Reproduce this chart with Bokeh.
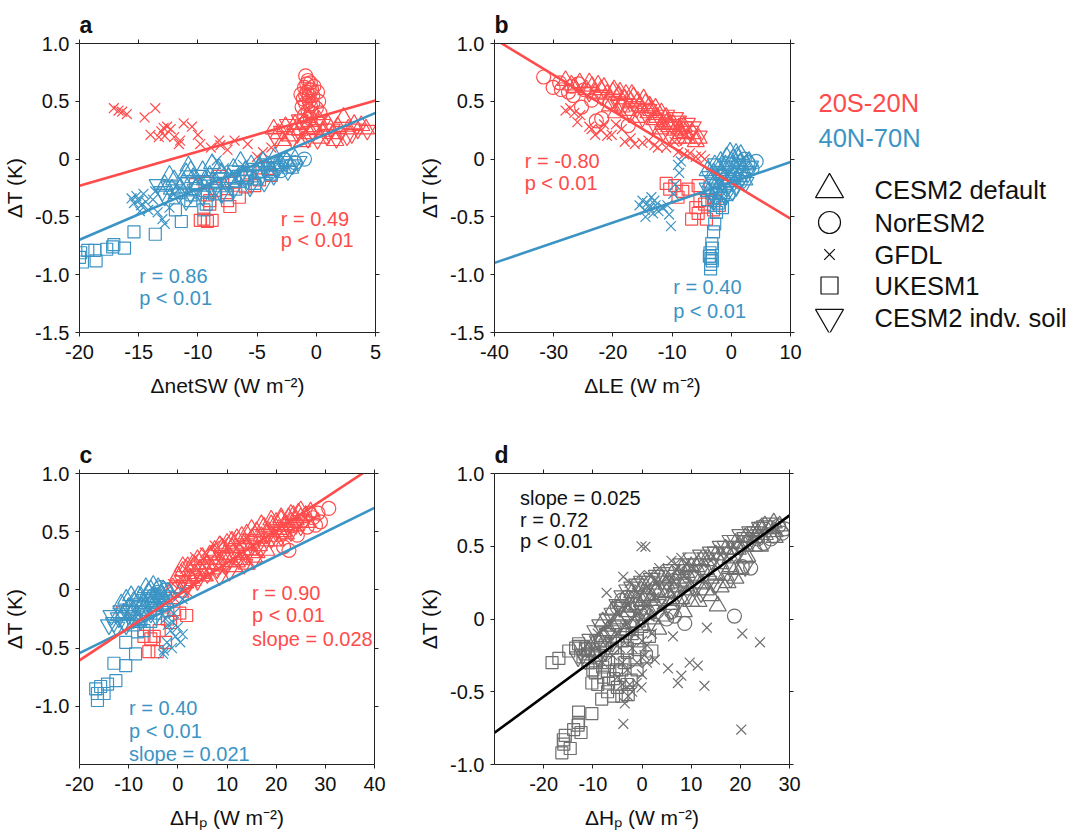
from bokeh.plotting import figure
from bokeh.layouts import row, column
from bokeh.models import LinearAxis, FixedTicker, CustomJSTickFormatter, Range1d
from bokeh.embed import file_html
from bokeh.resources import INLINE
from bokeh.core.properties import value

FONT = "Liberation Sans"
RED = "#FF4B4B"
BLUE = "#3B94C4"
GRAY = "#6E6E6E"
AXIS_COLOR = "#222222"

REGIONS = ["20S-20N", "40N-70N"]
MODELS = ["CESM2 default", "NorESM2", "GFDL", "UKESM1", "CESM2 indv. soil"]
MARKERS = ["triangle", "circle", "x", "square", "inverted_triangle"]
MARKER_SIZE = {"triangle": 17, "circle": 14, "x": 14, "square": 12, "inverted_triangle": 17}

# ---------------- panel a: dT vs dnetSW ----------------
A_XTICKS = [-20, -15, -10, -5, 0, 5]
A_XLABELS = ["-20", "-15", "-10", "-5", "0", "5"]
Y_TICKS_FULL = [-1.5, -1.0, -0.5, 0, 0.5, 1.0]
Y_LABELS_FULL = ["-1.5", "-1.0", "-0.5", "0", "0.5", "1.0"]

A_RED_CES = [(-3.2, 0.22), (-2.6, 0.28), (-2.2, 0.20), (-1.8, 0.30), (-1.4, 0.25), (-1.0, 0.32),
             (-0.6, 0.22), (-0.2, 0.28), (0.2, 0.34), (0.6, 0.24), (1.0, 0.30), (1.4, 0.22),
             (1.8, 0.28), (2.3, 0.36), (2.7, 0.26), (3.2, 0.30), (3.8, 0.29), (4.2, 0.26),
             (-2.8, 0.16), (-1.2, 0.15), (0.4, 0.18), (1.6, 0.16), (-3.6, 0.26), (-0.8, 0.36)]
A_RED_NOR = [(-0.9, 0.72), (-0.7, 0.68), (-0.5, 0.66), (-1.0, 0.62), (-0.4, 0.60), (-0.8, 0.58),
             (-0.6, 0.55), (-1.1, 0.52), (-0.3, 0.55), (0.1, 0.58), (-0.9, 0.48), (-0.5, 0.46),
             (0.2, 0.50), (-1.2, 0.45), (-0.7, 0.42), (-0.4, 0.40), (-1.0, 0.38), (0.0, 0.44),
             (-0.6, 0.50), (-0.2, 0.63), (-1.3, 0.56), (-0.8, 0.65), (-0.5, 0.35), (-1.1, 0.30),
             (0.3, 0.40), (-0.3, 0.48), (-0.9, 0.55), (-0.6, 0.60)]
A_RED_GFDL = [(-17.1, 0.44), (-16.7, 0.42), (-16.4, 0.41), (-16.0, 0.39), (-14.5, 0.36), (-13.6, 0.44),
              (-14.0, 0.21), (-13.1, 0.24), (-12.9, 0.27), (-12.6, 0.28), (-12.3, 0.26), (-12.0, 0.19),
              (-11.5, 0.16), (-11.6, 0.13), (-11.2, 0.31), (-10.5, 0.28), (-10.0, 0.21), (-9.8, 0.13),
              (-8.9, 0.10), (-8.2, 0.16), (-8.1, 0.12), (-6.9, 0.16), (-5.8, 0.13), (-5.0, 0.02),
              (-3.8, 0.10), (-12.8, 0.20), (-13.3, 0.19), (-7.5, 0.08), (-4.5, 0.06)]
A_RED_UK = [(-9.8, -0.53), (-9.5, -0.52), (-9.2, -0.54), (-8.8, -0.53), (-9.0, -0.36), (-9.2, -0.31),
            (-9.0, -0.39), (-7.5, -0.36), (-7.3, -0.41), (-6.5, -0.33), (-5.2, -0.23), (-7.5, -0.29),
            (-6.9, -0.20), (-4.8, -0.18), (-3.8, -0.14), (-4.1, -0.08), (-8.5, -0.27), (-9.4, -0.20),
            (-8.2, -0.15), (-6.0, -0.24), (-10.2, -0.22), (-5.6, -0.12)]
A_RED_SOIL = [(-3.4, 0.18), (-2.9, 0.24), (-2.4, 0.30), (-2.0, 0.17), (-1.6, 0.22), (-1.1, 0.27),
              (-0.7, 0.18), (-0.3, 0.24), (0.1, 0.17), (0.5, 0.30), (0.9, 0.20), (1.3, 0.26),
              (1.7, 0.18), (2.1, 0.24), (2.6, 0.20), (3.0, 0.22), (3.5, 0.26), (4.3, 0.25),
              (-1.4, 0.34), (0.0, 0.32)]

A_BLUE_CES = [(-12.8, -0.22), (-12.0, -0.18), (-11.5, -0.25), (-11.0, -0.12), (-10.4, -0.16), (-10.0, -0.22),
              (-9.6, -0.10), (-9.0, -0.14), (-8.5, -0.20), (-8.0, -0.12), (-7.4, -0.16), (-7.0, -0.08),
              (-6.6, -0.20), (-6.0, -0.10), (-5.5, -0.05), (-5.0, -0.12), (-4.5, -0.02), (-4.0, -0.06),
              (-3.5, 0.02), (-3.0, -0.04), (-2.5, -0.02), (-11.8, -0.30), (-9.2, -0.28), (-7.8, -0.24),
              (-10.8, -0.06), (-8.8, -0.04), (-6.4, -0.02), (-12.4, -0.14), (-12.2, -0.26), (-11.2, -0.20),
              (-10.6, -0.10), (-9.4, -0.18), (-8.2, -0.08), (-7.2, -0.20), (-6.2, -0.15), (-5.2, -0.18),
              (-4.8, -0.06), (-3.8, -0.10), (-3.2, -0.06), (-2.2, -0.08), (-1.8, 0.0)]
A_BLUE_NOR = [(-1.0, 0.0), (-2.2, -0.06), (-3.0, -0.10), (-4.0, -0.12), (-3.6, -0.04), (-2.6, -0.01),
              (-1.8, -0.03)]
A_BLUE_GFDL = [(-15.2, -0.32), (-15.0, -0.36), (-14.8, -0.40), (-15.4, -0.38), (-14.6, -0.30), (-14.2, -0.44),
               (-13.8, -0.35), (-13.4, -0.46), (-13.0, -0.52), (-12.8, -0.56), (-12.4, -0.42), (-14.9, -0.45),
               (-13.6, -0.28), (-12.0, -0.30), (-11.5, -0.25), (-8.4, -0.01), (-7.8, -0.08), (-7.0, -0.12),
               (-6.2, -0.05), (-10.2, -0.18), (-9.0, -0.22), (-15.6, -0.34), (-14.4, -0.37)]
A_BLUE_UK = [(-20.0, -0.85), (-19.75, -0.89), (-19.3, -0.79), (-18.6, -0.88), (-18.7, -0.79), (-17.7, -0.78),
             (-17.1, -0.74), (-16.2, -0.77), (-15.4, -0.63), (-13.6, -0.65), (-11.9, -0.44), (-11.4, -0.54),
             (-10.6, -0.36), (-9.5, -0.44), (-10.5, -0.31), (-7.6, -0.31), (-5.2, -0.21), (-3.9, -0.13),
             (-5.9, -0.16), (-9.3, -0.39), (-17.2, -0.76), (-19.9, -0.81), (-8.6, -0.30), (-6.8, -0.26)]
A_BLUE_SOIL = [(-13.0, -0.28), (-12.4, -0.24), (-11.6, -0.30), (-10.8, -0.20), (-10.2, -0.26), (-9.8, -0.14),
               (-9.2, -0.20), (-8.6, -0.26), (-8.2, -0.16), (-7.6, -0.20), (-7.0, -0.26), (-6.4, -0.14),
               (-5.8, -0.18), (-5.2, -0.08), (-4.6, -0.14), (-4.2, -0.04), (-3.4, -0.08), (-2.8, -0.02),
               (-2.0, -0.05), (-1.5, -0.02), (-13.4, -0.22), (-11.0, -0.36), (-12.8, -0.32), (-10.6, -0.30),
               (-9.6, -0.32), (-8.0, -0.30), (-6.8, -0.10), (-5.6, -0.24), (-4.4, -0.20), (-3.6, -0.14),
               (-2.4, -0.10)]

A_FIT_RED = (0.0295, 0.36)     # slope, intercept
A_FIT_BLUE = (0.0439, 0.18)
A_STATS_RED = ["r = 0.49", "p < 0.01"]
A_STATS_BLUE = ["r = 0.86", "p < 0.01"]

# ---------------- panel b: dT vs dLE ----------------
B_XTICKS = [-40, -30, -20, -10, 0, 10]
B_XLABELS = ["-40", "-30", "-20", "-10", "0", "10"]

B_RED_CES = [(-28.0, 0.68), (-27.0, 0.64), (-25.6, 0.66), (-24.5, 0.60), (-23.5, 0.63), (-23.0, 0.57),
             (-22.0, 0.60), (-21.0, 0.56), (-20.0, 0.58), (-19.0, 0.55), (-18.0, 0.52), (-17.0, 0.50),
             (-16.5, 0.54), (-15.5, 0.46), (-14.5, 0.48), (-13.5, 0.42), (-12.5, 0.36), (-11.5, 0.30),
             (-10.5, 0.28), (-9.5, 0.25), (-8.5, 0.22), (-7.5, 0.18), (-6.5, 0.22), (-14.0, 0.40),
             (-18.5, 0.45), (-20.5, 0.46), (-12.0, 0.26), (-9.0, 0.18), (-16.0, 0.36), (-19.5, 0.40),
             (-11.0, 0.36), (-13.0, 0.34), (-17.5, 0.42), (-8.0, 0.28), (-6.0, 0.15),
             (-26.5, 0.62), (-24.0, 0.66), (-22.5, 0.64), (-21.5, 0.62), (-19.8, 0.60), (-18.8, 0.58),
             (-17.8, 0.56), (-16.8, 0.56), (-15.8, 0.50), (-14.8, 0.52), (-13.8, 0.46), (-12.8, 0.44),
             (-11.8, 0.40), (-10.8, 0.32), (-9.8, 0.30), (-8.8, 0.26), (-7.8, 0.23), (-5.5, 0.18)]
B_RED_NOR = [(-31.7, 0.71), (-30.1, 0.62), (-28.7, 0.60), (-27.5, 0.58), (-25.8, 0.65), (-26.7, 0.55),
             (-25.3, 0.45), (-21.9, 0.35), (-23.6, 0.51), (-17.4, 0.29), (-29.0, 0.66), (-27.0, 0.63),
             (-24.8, 0.60), (-22.8, 0.33), (-20.5, 0.50)]
B_RED_GFDL = [(-28.0, 0.42), (-27.2, 0.44), (-26.5, 0.40), (-25.5, 0.38), (-24.0, 0.28), (-23.6, 0.26),
              (-23.0, 0.21), (-22.0, 0.25), (-21.0, 0.20), (-20.2, 0.21), (-19.5, 0.30), (-18.5, 0.26),
              (-18.0, 0.15), (-17.0, 0.18), (-16.3, 0.13), (-15.0, 0.14), (-14.0, 0.16), (-13.0, 0.12),
              (-12.4, 0.10), (-11.0, 0.10), (-9.6, 0.15), (-9.0, 0.06), (-8.0, 0.04), (-7.0, 0.05),
              (-6.0, 0.02), (-5.1, 0.03), (-4.5, 0.00), (-26.0, 0.32), (-21.5, 0.30)]
B_RED_UK = [(-11.0, -0.21), (-9.55, -0.23), (-9.0, -0.33), (-7.3, -0.26), (-5.6, -0.23), (-5.3, -0.36),
            (-5.6, -0.47), (-6.7, -0.52), (-4.5, -0.39), (-2.8, -0.36), (-2.0, -0.40), (-10.4, -0.26),
            (-6.0, -0.42), (-4.2, -0.52), (-3.0, -0.44), (-8.2, -0.28)]
B_RED_SOIL = [(-22.0, 0.55), (-20.0, 0.52), (-18.0, 0.48), (-16.0, 0.44), (-14.0, 0.43), (-12.0, 0.34),
              (-11.0, 0.38), (-10.0, 0.30), (-9.0, 0.33), (-8.0, 0.28), (-7.0, 0.24), (-6.5, 0.28),
              (-8.5, 0.20), (-10.5, 0.22), (-13.0, 0.30), (-15.0, 0.36), (-17.0, 0.40), (-11.5, 0.24),
              (-24.0, 0.58), (-19.0, 0.47), (-9.5, 0.36), (-7.5, 0.31), (-5.5, 0.20)]

B_BLUE_CES = [(-3.5, -0.20), (-3.0, -0.12), (-2.5, -0.18), (-2.0, -0.08), (-1.5, -0.14), (-1.0, -0.05),
              (-0.5, -0.10), (0.0, -0.02), (0.5, -0.08), (1.0, 0.02), (1.5, -0.04), (2.0, -0.10),
              (0.8, 0.05), (-1.2, -0.22), (-0.3, -0.18), (2.5, -0.05), (-2.2, -0.25), (1.2, -0.15),
              (-4.0, -0.10), (0.3, 0.0), (-1.8, -0.02), (-3.8, -0.28), (-2.8, -0.05), (-0.8, 0.02),
              (0.6, -0.14), (1.6, 0.04), (2.2, -0.18), (-1.6, -0.30), (3.0, -0.02), (-0.2, 0.06)]
B_BLUE_NOR = [(4.2, -0.02), (3.5, -0.08), (2.2, 0.0), (1.5, -0.20), (-0.5, -0.30), (2.8, -0.03)]
B_BLUE_GFDL = [(-15.5, -0.40), (-15.0, -0.36), (-14.6, -0.44), (-14.2, -0.38), (-13.8, -0.42), (-13.5, -0.33),
               (-13.2, -0.47), (-12.8, -0.40), (-12.3, -0.45), (-11.5, -0.42), (-10.5, -0.48), (-10.2, -0.58),
               (-9.8, -0.30), (-9.5, -0.22), (-9.0, -0.05), (-8.5, -0.02), (-8.8, -0.12), (-14.5, -0.50),
               (-13.0, -0.36), (-10.8, -0.40)]
B_BLUE_UK = [(-3.5, -0.95), (-3.5, -0.91), (-3.4, -0.86), (-3.6, -0.81), (-3.2, -0.77), (-3.3, -0.73),
             (-3.0, -0.63), (-2.8, -0.56), (-2.5, -0.46), (-3.0, -0.40), (-2.2, -0.38), (-1.8, -0.34),
             (-2.6, -0.30), (-1.5, -0.42), (-4.0, -0.35), (-3.2, -0.88), (-3.7, -0.84)]
B_BLUE_SOIL = [(-4.0, -0.25), (-3.2, -0.30), (-2.8, -0.22), (-2.0, -0.28), (-1.5, -0.20), (-0.8, -0.25),
               (-0.2, -0.12), (0.4, -0.20), (1.0, -0.10), (1.8, -0.16), (2.8, -0.12), (3.2, -0.06),
               (-1.0, -0.32), (0.2, -0.28), (-3.6, -0.15), (-2.4, -0.12), (-0.6, -0.06),
               (-3.0, -0.36), (-1.8, -0.14), (-0.4, -0.22), (0.8, -0.24), (1.4, -0.06), (2.4, -0.20),
               (-2.6, -0.04)]

B_FIT_RED = (-0.0311, -0.205)
B_FIT_BLUE = (0.01744, -0.20)
B_STATS_RED = ["r = -0.80", "p < 0.01"]
B_STATS_BLUE = ["r = 0.40", "p < 0.01"]

# ---------------- panel c: dT vs dHp by region ----------------
C_XTICKS = [-20, -10, 0, 10, 20, 30, 40]
C_XLABELS = ["-20", "-10", "0", "10", "20", "30", "40"]
C_YTICKS = [-1.0, -0.5, 0, 0.5, 1.0]
C_YLABELS = ["-1.0", "-0.5", "0", "0.5", "1.0"]

C_RED_CES = [(-1, 0.02), (0, 0.12), (0.5, -0.02), (1, 0.16), (1.5, 0.06), (2, 0.2), (2.5, 0.1), (3, 0.22),
             (3.5, 0.14), (4, 0.26), (4.5, 0.18), (5, 0.28), (5.5, 0.12), (6, 0.22), (6.5, 0.3), (7, 0.18),
             (7.5, 0.34), (8, 0.26), (8.5, 0.38), (9, 0.22), (9.5, 0.3), (10, 0.4), (10.5, 0.28), (11, 0.36),
             (11.5, 0.2), (12, 0.44), (12.5, 0.32), (13, 0.26), (13.5, 0.4), (14, 0.48), (14.5, 0.34),
             (15, 0.44), (15.5, 0.28), (16, 0.5), (16.5, 0.38), (17, 0.46), (17.5, 0.54), (18, 0.42),
             (18.5, 0.5), (19, 0.56), (19.5, 0.46), (20, 0.58), (20.5, 0.52), (21, 0.6), (21.5, 0.5),
             (22, 0.56), (22.5, 0.62), (23, 0.58), (23.5, 0.64), (24, 0.6), (24.5, 0.66), (25, 0.62),
             (26, 0.64), (27, 0.67), (26.5, 0.58), (12, 0.24), (16, 0.32),
             (1, 0.2), (3, 0.08), (5, 0.14), (7, 0.3), (9, 0.36), (11, 0.42), (13, 0.46), (15, 0.52),
             (17, 0.56), (19, 0.6), (21, 0.62), (23, 0.65), (25, 0.68), (14, 0.22), (18, 0.34), (20, 0.42),
             (22, 0.48), (24, 0.55)]
C_RED_NOR = [(30.7, 0.70), (29.0, 0.585), (28.0, 0.556), (26.3, 0.54), (24.3, 0.47), (22.6, 0.34),
             (21.5, 0.37), (27.5, 0.62), (25.5, 0.60), (23.0, 0.55), (28.5, 0.66), (26.8, 0.66)]
C_RED_GFDL = [(-1, 0.05), (0.5, 0.1), (1.5, 0.18), (2.5, 0.22), (3.5, 0.28), (4.5, 0.24), (5.5, 0.32),
              (6.5, 0.26), (7.5, 0.38), (8.5, 0.3), (9.5, 0.42), (10.5, 0.36), (11.5, 0.46), (12.5, 0.4),
              (14, 0.44), (3, 0.06), (6, 0.12), (9, 0.16), (-0.5, -0.08), (2, -0.02)]
C_RED_UK = [(-11.3, -0.19), (-6.9, -0.40), (-5.5, -0.42), (-5.9, -0.53), (-4.2, -0.53), (-2.8, -0.13),
            (-2.1, -0.25), (0.4, -0.20), (1.8, -0.22), (-1.5, -0.28), (-3.8, -0.35), (-0.8, -0.17),
            (-4.8, -0.40), (-2.5, -0.45)]
C_RED_SOIL = [(0, 0.02), (1, 0.08), (2, 0.04), (3, 0.12), (4, 0.08), (5, 0.18), (6, 0.14), (7, 0.24),
              (8, 0.18), (9, 0.28), (10, 0.22), (11, 0.3), (12, 0.28), (13, 0.36), (14, 0.3), (15, 0.38),
              (16, 0.42), (17, 0.36), (18, 0.48), (19, 0.44), (20, 0.5), (21, 0.46), (22, 0.52), (23, 0.5),
              (24, 0.56), (25, 0.55), (10.5, 0.16), (13.5, 0.22), (15.5, 0.26), (8.5, 0.12)]

C_BLUE_CES = [(-10.0, -0.15), (-9.0, -0.10), (-8.0, -0.05), (-7.0, -0.12), (-6.0, -0.02), (-5.0, -0.08),
              (-4.0, 0.02), (-3.5, -0.04), (-4.5, -0.14), (-6.5, -0.18), (-8.5, -0.22), (-11.0, -0.20),
              (-3.0, 0.0), (-5.5, 0.0), (-7.5, -0.06), (-2.5, -0.10), (-9.5, -0.05), (-6.0, -0.10),
              (-4.0, -0.06), (-10.5, -0.08), (-9.0, -0.18), (-7.5, -0.14), (-6.5, 0.02), (-5.0, 0.04),
              (-4.5, -0.06), (-3.5, -0.12), (-2.0, -0.02), (-8.0, -0.28), (-11.5, -0.12), (-12.0, -0.22)]
C_BLUE_NOR = [(-4.0, -0.02), (-3.5, 0.02), (-5.0, -0.05), (-2.5, 0.0)]
C_BLUE_GFDL = [(-2.5, -0.25), (-2.0, -0.30), (-1.5, -0.35), (-1.0, -0.28), (-0.5, -0.40), (0.0, -0.32),
               (0.5, -0.45), (1.0, -0.38), (-1.2, -0.50), (-3.0, -0.55), (-2.2, -0.45), (0.8, 0.0),
               (0.2, -0.05), (1.0, -0.08), (-0.8, -0.20), (-2.8, -0.52)]
C_BLUE_UK = [(-16.35, -0.95), (-16.35, -0.89), (-15.7, -0.83), (-14.3, -0.81), (-13.0, -0.63), (-10.6, -0.65),
             (-8.6, -0.55), (-10.6, -0.45), (-8.2, -0.36), (-6.9, -0.35), (-5.5, -0.27), (-12.6, -0.78),
             (-15.0, -0.89), (-16.7, -0.85), (-9.0, -0.30), (-7.5, -0.25), (-4.5, -0.20)]
C_BLUE_SOIL = [(-13.0, -0.28), (-12.0, -0.24), (-11.0, -0.28), (-10.0, -0.22), (-9.0, -0.25), (-8.0, -0.18),
               (-7.0, -0.20), (-6.0, -0.12), (-5.0, -0.15), (-4.0, -0.08), (-3.0, -0.05), (-12.5, -0.32),
               (-9.5, -0.18), (-6.5, -0.08), (-8.5, -0.12), (-11.5, -0.18), (-14.0, -0.30), (-13.5, -0.22),
               (-10.5, -0.30), (-7.5, -0.26), (-5.5, -0.20), (-4.5, -0.22), (-3.5, -0.10), (-2.5, -0.16)]

C_FIT_RED = (0.0279, -0.047)
C_FIT_BLUE = (0.0208, -0.127)
C_STATS_RED = ["r = 0.90", "p < 0.01", "slope = 0.028"]
C_STATS_BLUE = ["r = 0.40", "p < 0.01", "slope = 0.021"]

# ---------------- panel d: dT vs dHp, all grid cells ----------------
D_XTICKS = [-20, -10, 0, 10, 20, 30]
D_XLABELS = ["-20", "-10", "0", "10", "20", "30"]
D_YTICKS = [-1.0, -0.5, 0, 0.5, 1.0]
D_YLABELS = ["-1.0", "-0.5", "0", "0.5", "1.0"]

D_CES = [(-10, -0.18), (-8, -0.12), (-6, -0.05), (-4, 0.02), (-2, 0.08), (0, 0.12), (2, 0.15), (4, 0.02),
         (3.3, -0.07), (5, 0.18), (6, 0.1), (7, 0.22), (8, 0.14), (9, 0.26), (10, 0.2), (11, 0.3), (12, 0.24),
         (13, 0.34), (14, 0.16), (15.4, 0.09), (14, 0.28), (16, 0.38), (17.4, 0.25), (18, 0.42), (19, 0.34),
         (20.1, 0.34), (21.4, 0.43), (21, 0.5), (22.8, 0.50), (23, 0.56), (24.1, 0.62), (25, 0.58),
         (26.8, 0.66), (26, 0.62), (27, 0.6), (28, 0.64), (-1, -0.02), (1, 0.04), (17, 0.3), (19.5, 0.48),
         (11.5, 0.12), (8.5, 0.05),
         (-11, -0.22), (-9, -0.16), (-7, -0.08), (-5, 0.0), (-3, 0.05), (-1, 0.1), (1, 0.16), (3, 0.2),
         (5, 0.24), (7, 0.28), (9, 0.32), (11, 0.36), (13, 0.4), (15, 0.44), (17, 0.48), (19, 0.52),
         (21, 0.56), (23, 0.6), (25, 0.64), (-8, -0.02), (-6, 0.06), (-4, 0.12), (-2, 0.18), (0, 0.22),
         (2, 0.24), (4, 0.28), (6, 0.3), (8, 0.34), (10, 0.36), (12, 0.4), (15, 0.3), (18, 0.36),
         (21, 0.42), (24, 0.5), (27, 0.56), (-3, -0.08), (0, -0.04), (2, 0.0), (6, 0.14), (10, 0.12),
         (13, 0.2), (16, 0.22), (19, 0.28)]
D_NOR = [(-4.1, 0.13), (6.0, 0.05), (8.7, -0.03), (18.8, 0.02), (20.4, 0.36), (22.1, 0.35), (24.8, 0.52),
         (26.8, 0.57), (28.5, 0.59), (27.8, 0.64), (26.2, 0.55), (6.6, 0.02), (-5.0, 0.08), (-3.0, 0.15),
         (3.0, 0.05), (5.0, 0.0), (29.0, 0.62), (23.5, 0.55), (-2.0, 0.10)]
D_GFDL = [(-9, -0.1), (-7, -0.05), (-5, 0.05), (-3, 0.1), (-1, 0.18), (1, 0.22), (3, 0.25), (5, 0.28),
          (7, 0.34), (9, 0.38), (-6, -0.25), (-4, -0.3), (-2, -0.2), (0, -0.15), (2, -0.1), (-5, -0.4),
          (-3, -0.35), (-1, -0.3), (1, -0.18), (-2.5, -0.45),
          (-0.1, 0.50), (0.7, 0.496), (-7.2, 0.18), (-3.8, 0.29), (6.3, -0.12), (5.3, -0.34), (7.3, -0.44),
          (8.0, -0.39), (9.7, -0.30), (11.35, -0.32), (12.7, -0.46), (13.2, -0.06), (20.4, -0.10),
          (24.0, -0.16), (20.2, -0.76), (-3.8, -0.72), (-3.5, -0.58), (-2.8, -0.53), (-1.1, -0.44),
          (-0.1, -0.47), (2.6, -0.28),
          (-8, -0.3), (-6.5, -0.15), (-4.5, -0.2), (-3.5, -0.05), (-2, 0.0), (-0.5, 0.05), (0.5, 0.12),
          (1.5, 0.02), (2.5, 0.15), (4, 0.1), (-1.5, -0.1), (0.5, -0.25), (-4, -0.45), (-2, -0.5),
          (0, -0.38), (1, -0.3), (-0.5, 0.3), (-2.5, 0.25), (1.5, 0.3), (3.5, 0.35), (6, 0.4), (8, 0.42)]
D_UK = [(-16.3, -0.92), (-15.9, -0.86), (-15.6, -0.80), (-14.6, -0.89), (-13.9, -0.76), (-12.9, -0.71),
        (-12.4, -0.78), (-12.9, -0.64), (-10.2, -0.65), (-8.2, -0.55), (-5.8, -0.53), (-4.1, -0.53),
        (-2.8, -0.52), (-10.2, -0.44), (-9.5, -0.37), (-7.8, -0.40), (-5.8, -0.41), (-4.1, -0.35),
        (-3.5, -0.30), (-1.4, -0.28), (2.0, -0.22), (-9.5, -0.30), (-6.8, -0.30), (-12.9, -0.17),
        (-10.9, -0.24), (-6.8, -0.44), (-5.2, -0.35), (-0.8, -0.21), (0.9, -0.26), (-18.3, -0.30),
        (-16.9, -0.27), (-14.9, -0.22), (-16.0, -0.83), (-13.0, -0.73), (-8.0, -0.33), (-2.2, -0.42),
        (-3.0, -0.23), (1.5, -0.12), (-11.5, -0.20), (-7.5, -0.18),
        (-9, -0.45), (-7, -0.5), (-5, -0.47), (-3, -0.45), (-1, -0.35), (-7, -0.36), (-5, -0.28),
        (-3, -0.2), (-1, -0.15), (-11, -0.3), (-8.5, -0.25), (-6, -0.2), (-4, -0.15), (-2, -0.1),
        (0, -0.05), (-13.5, -0.2), (-12, -0.26), (-10, -0.35)]
D_SOIL = [(-12, -0.24), (-11, -0.2), (-10, -0.24), (-9, -0.15), (-8, -0.2), (-7, -0.1), (-6, -0.16),
          (-5, -0.04), (-4, -0.1), (-3, 0.02), (-2, -0.04), (-1, 0.08), (0, 0.0), (1, 0.14), (2, 0.06),
          (3, 0.2), (4, 0.12), (5, 0.26), (6, 0.2), (7, 0.3), (8, 0.24), (9, 0.34), (10, 0.3), (11, 0.38),
          (12, 0.34), (13, 0.42), (14, 0.38), (15, 0.46), (16, 0.42), (17, 0.5), (18, 0.46), (19, 0.54),
          (20, 0.5), (21, 0.56), (22, 0.54), (23, 0.6), (24, 0.58), (25, 0.64), (-7.5, -0.22), (-4.5, 0.08),
          (-1.5, 0.16), (1.5, 0.2), (4.5, 0.22), (7.5, 0.18), (10.5, 0.22), (13.5, 0.26),
          (-13, -0.26), (-11.5, -0.28), (-10.5, -0.14), (-9.5, -0.08), (-8.5, -0.04), (-7, 0.0),
          (-6, 0.04), (-5, 0.1), (-4, 0.16), (-3, 0.2), (-2, 0.22), (-1, 0.24), (0, 0.26), (1, 0.26),
          (2, 0.28), (3, 0.3), (4, 0.32), (6, 0.34), (8, 0.38), (10, 0.42), (12, 0.44), (14, 0.46),
          (16, 0.5), (18, 0.54), (20, 0.58), (22, 0.6), (24, 0.63), (26, 0.66), (-6, -0.08), (-3, -0.12),
          (0, 0.06), (3, 0.1), (6, 0.06), (9, 0.16), (12, 0.18), (15, 0.24), (18, 0.28), (21, 0.36),
          (-12.5, -0.18), (-9, -0.26)]

D_FIT = (0.0249, -0.035)
D_STATS = ["slope = 0.025", "r = 0.72", "p < 0.01"]


def tick_overrides(ticks, labels):
    return {t: s for t, s in zip(ticks, labels)}


def make_panel(width, height, borders, xr, yr, xticks, xlabels, yticks, ylabels, xlabel, letter):
    left, right, top, bottom = borders
    p = figure(width=width, height=height, x_range=Range1d(*xr), y_range=Range1d(*yr),
               toolbar_location=None, output_backend="svg", title=letter,
               min_border_left=left, min_border_right=right,
               min_border_top=top, min_border_bottom=bottom)
    p.grid.visible = False
    p.outline_line_color = None
    p.title.text_font = FONT
    p.title.text_font_size = "23px"
    p.title.text_font_style = "bold"
    p.title.text_color = "#111111"
    p.title.align = "left"
    p.title.offset = 0
    p.title.standoff = 4

    for ax, ticks, labels in ((p.xaxis[0], xticks, xlabels), (p.yaxis[0], yticks, ylabels)):
        ax.ticker = FixedTicker(ticks=ticks)
        ax.major_label_overrides = tick_overrides(ticks, labels)
        ax.major_label_text_font = FONT
        ax.major_label_text_font_size = "20px"
        ax.major_label_text_color = "#111111"
        ax.axis_label_text_font = FONT
        ax.axis_label_text_font_size = "21px"
        ax.axis_label_text_font_style = "normal"
        ax.axis_label_text_color = "#111111"
        ax.minor_tick_line_color = None
        ax.major_tick_in = 0
        ax.major_tick_out = 4
        ax.axis_line_color = AXIS_COLOR
        ax.major_tick_line_color = AXIS_COLOR
    p.xaxis[0].axis_label = xlabel
    p.xaxis[0].major_label_standoff = 8
    p.xaxis[0].axis_label_standoff = 12
    p.yaxis[0].axis_label = "ΔT (K)"
    p.yaxis[0].major_label_standoff = 6
    p.yaxis[0].axis_label_standoff = 6

    blank = CustomJSTickFormatter(code="return '';")
    for side, ticks in (("above", xticks), ("right", yticks)):
        ax = LinearAxis(ticker=FixedTicker(ticks=ticks), formatter=blank,
                        major_tick_in=0, major_tick_out=4, minor_tick_line_color=None,
                        major_label_standoff=0, major_label_text_font_size="1px",
                        axis_line_color=AXIS_COLOR, major_tick_line_color=AXIS_COLOR)
        p.add_layout(ax, side)
    return p


def add_points(p, pts, marker, color, size=None):
    xs = [q[0] for q in pts]
    ys = [q[1] for q in pts]
    p.scatter(xs, ys, marker=marker, size=size or MARKER_SIZE[marker],
              fill_color=None, line_color=color, line_width=1.2)


def add_fit(p, fit, xr, color):
    slope, icpt = fit
    xs = [xr[0], xr[1]]
    p.line(xs, [slope * x + icpt for x in xs], line_color=color, line_width=2.6)


def add_stats(p, x, ys, lines, color):
    p.text(x=[x] * len(lines), y=ys, text=lines, text_color=color,
           text_font=value(FONT), text_font_size="20px",
           text_baseline="middle", text_align="left")


# ---- panel a ----
A_XR = (-20, 5)
YR_FULL = (-1.5, 1.0)
pa = make_panel(415, 430, (79, 40, 43, 98), A_XR, YR_FULL, A_XTICKS, A_XLABELS,
                Y_TICKS_FULL, Y_LABELS_FULL, "ΔnetSW (W m⁻²)", "a")
for pts, m in ((A_RED_CES, "triangle"), (A_RED_SOIL, "inverted_triangle"), (A_RED_GFDL, "x"),
               (A_RED_UK, "square"), (A_RED_NOR, "circle")):
    add_points(pa, pts, m, RED)
for pts, m in ((A_BLUE_CES, "triangle"), (A_BLUE_SOIL, "inverted_triangle"), (A_BLUE_GFDL, "x"),
               (A_BLUE_UK, "square"), (A_BLUE_NOR, "circle")):
    add_points(pa, pts, m, BLUE)
add_fit(pa, A_FIT_RED, A_XR, RED)
add_fit(pa, A_FIT_BLUE, A_XR, BLUE)
add_stats(pa, -3.0, [-0.514, -0.70], A_STATS_RED, RED)
add_stats(pa, -14.96, [-1.008, -1.20], A_STATS_BLUE, BLUE)

# ---- panel b ----
B_XR = (-40, 10)
pb = make_panel(395, 430, (78, 20, 43, 98), B_XR, YR_FULL, B_XTICKS, B_XLABELS,
                Y_TICKS_FULL, Y_LABELS_FULL, "ΔLE (W m⁻²)", "b")
for pts, m in ((B_RED_CES, "triangle"), (B_RED_SOIL, "inverted_triangle"), (B_RED_GFDL, "x"),
               (B_RED_UK, "square"), (B_RED_NOR, "circle")):
    add_points(pb, pts, m, RED)
for pts, m in ((B_BLUE_CES, "triangle"), (B_BLUE_SOIL, "inverted_triangle"), (B_BLUE_GFDL, "x"),
               (B_BLUE_UK, "square"), (B_BLUE_NOR, "circle")):
    add_points(pb, pts, m, BLUE)
add_fit(pb, B_FIT_RED, B_XR, RED)
add_fit(pb, B_FIT_BLUE, B_XR, BLUE)
add_stats(pb, -34.9, [-0.017, -0.208], B_STATS_RED, RED)
add_stats(pb, -9.82, [-1.109, -1.311], B_STATS_BLUE, BLUE)

# ---- legend column (its frame lines up with the panel frames, y in page pixels) ----
pl = figure(width=265, height=430, x_range=Range1d(0, 265), y_range=Range1d(332, 43),
            toolbar_location=None, output_backend="svg", min_border=0)
pl.axis.visible = False
pl.grid.visible = False
pl.outline_line_color = None
pl.text(x=[8, 8], y=[102, 137], text=REGIONS, text_color=[RED, BLUE],
        text_font=value(FONT), text_font_size="25.5px", text_baseline="middle")
leg_y = [189, 222, 254, 285, 317]
leg_sizes = [28, 22, 15, 17, 28]
for yy, m, s in zip(leg_y, MARKERS, leg_sizes):
    pl.scatter([19], [yy], marker=m, size=s, fill_color=None, line_color="#111111", line_width=1.2)
pl.text(x=[64] * len(MODELS), y=leg_y, text=MODELS, text_color="#111111",
        text_font=value(FONT), text_font_size="25.5px", text_baseline="middle")

# ---- panel c ----
C_XR = (-20, 40)
pc = make_panel(415, 406, (79, 41, 43, 72), C_XR, YR_FULL, C_XTICKS, C_XLABELS,
                C_YTICKS, C_YLABELS, "ΔHₚ (W m⁻²)", "c")
for pts, m in ((C_RED_CES, "triangle"), (C_RED_SOIL, "inverted_triangle"), (C_RED_GFDL, "x"),
               (C_RED_UK, "square"), (C_RED_NOR, "circle")):
    add_points(pc, pts, m, RED)
for pts, m in ((C_BLUE_CES, "triangle"), (C_BLUE_SOIL, "inverted_triangle"), (C_BLUE_GFDL, "x"),
               (C_BLUE_UK, "square"), (C_BLUE_NOR, "circle")):
    add_points(pc, pts, m, BLUE)
add_fit(pc, C_FIT_BLUE, C_XR, BLUE)
add_fit(pc, C_FIT_RED, C_XR, RED)
add_stats(pc, 15.1, [-0.023, -0.218, -0.418], C_STATS_RED, RED)
add_stats(pc, -9.93, [-1.015, -1.215, -1.413], C_STATS_BLUE, BLUE)

# ---- panel d ----
D_XR = (-30, 30)
D_YR = (-1.0, 1.0)
pd_ = make_panel(660, 406, (77, 286, 43, 72), D_XR, D_YR, D_XTICKS, D_XLABELS,
                 D_YTICKS, D_YLABELS, "ΔHₚ (W m⁻²)", "d")
for pts, m in ((D_CES, "triangle"), (D_SOIL, "inverted_triangle"), (D_GFDL, "x"),
               (D_UK, "square"), (D_NOR, "circle")):
    add_points(pd_, pts, m, GRAY)
add_fit(pd_, D_FIT, D_XR, "#000000")
add_stats(pd_, -24.8, [0.834, 0.68, 0.535], D_STATS, "#111111")

layout = column(row(pa, pb, pl), row(pc, pd_))
open("out.html", "w").write(file_html(layout, INLINE))
